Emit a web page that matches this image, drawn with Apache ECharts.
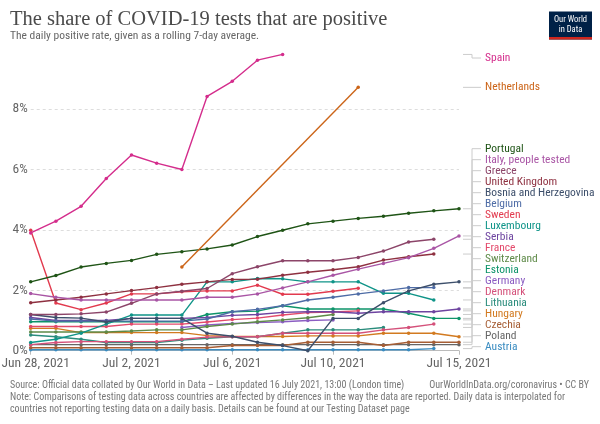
<!DOCTYPE html>
<html><head><meta charset="utf-8">
<script src="https://cdn.jsdelivr.net/npm/echarts@6/dist/echarts.min.js"></script>
<style>html,body{margin:0;padding:0;background:#fff}#c{width:600px;height:424px}</style>
</head><body><div id="c"></div><script>
const _ = null;
const days = ["Jun 28, 2021","Jun 29, 2021","Jun 30, 2021","Jul 1, 2021","Jul 2, 2021","Jul 3, 2021","Jul 4, 2021","Jul 5, 2021","Jul 6, 2021","Jul 7, 2021","Jul 8, 2021","Jul 9, 2021","Jul 10, 2021","Jul 11, 2021","Jul 12, 2021","Jul 13, 2021","Jul 14, 2021","Jul 15, 2021"];
const tickDays = ["Jun 28, 2021","Jul 2, 2021","Jul 6, 2021","Jul 10, 2021","Jul 15, 2021"];

const spain       = [3.90,4.29,4.78,5.70,6.48,6.21,6.00,8.42,8.92,9.62,9.81,_,_,_,_,_,_,_];
const netherlands = [_,_,_,_,_,_,2.77,_,_,_,_,_,_,8.72,_,_,_,_];
const portugal    = [2.28,2.49,2.77,2.89,2.99,3.19,3.28,3.37,3.50,3.78,3.99,4.20,4.29,4.38,4.45,4.55,4.63,4.70];
const italy       = [1.89,1.77,1.68,1.68,1.68,1.68,1.68,1.77,1.77,1.88,2.08,2.28,2.50,2.70,2.89,3.08,3.39,3.80];
const greece      = [1.20,1.20,1.22,1.28,1.57,1.88,1.97,2.06,2.55,2.78,2.98,2.98,2.98,3.09,3.30,3.60,3.69,_];
const uk          = [1.59,1.68,1.77,1.88,1.99,2.09,2.20,2.28,2.36,2.37,2.50,2.60,2.68,2.78,3.00,3.11,3.20,_];
const bosnia      = [1.20,1.10,1.08,0.95,1.07,1.07,1.07,0.58,0.48,0.28,0.17,0.00,1.07,1.07,1.59,1.98,2.20,2.28];
const belgium     = [1.05,0.98,0.98,0.98,0.98,0.98,0.98,1.05,1.29,1.37,1.49,1.68,1.77,1.88,1.98,2.09,2.09,_];
const sweden      = [3.99,1.58,1.36,1.58,1.88,1.88,1.95,1.98,1.98,2.17,1.87,1.87,1.97,2.07,_,_,_,_];
const luxembourg  = [0.27,0.38,0.58,0.88,1.18,1.18,1.18,2.28,2.28,2.39,2.38,2.28,2.28,2.28,1.90,1.90,1.68,_];
const serbia      = [1.10,1.00,1.00,1.00,1.07,1.07,1.07,1.10,1.17,1.20,1.27,1.29,1.29,1.24,1.29,1.29,1.29,1.38];
const france      = [0.80,0.80,0.80,0.80,0.88,0.88,0.88,0.95,1.03,1.08,1.18,1.26,1.28,1.32,_,_,_,_];
const switzerland = [0.62,0.62,0.62,0.62,0.65,0.69,0.69,0.80,0.88,0.96,1.02,1.09,1.20,_,_,_,_,_];
const estonia     = [0.96,0.96,0.96,0.96,0.96,0.96,0.96,1.20,1.29,1.31,1.49,1.38,1.38,1.38,1.38,1.24,1.07,1.07];
const germany     = [_,_,_,_,_,_,0.77,0.85,0.90,0.93,0.96,1.00,1.02,_,_,_,_,_];
const denmark     = [0.20,0.27,0.30,0.30,0.30,0.30,0.38,0.45,0.46,0.46,0.58,0.58,0.58,0.58,0.69,0.77,0.88,_];
const lithuania   = [0.52,0.46,0.38,0.27,0.27,0.27,0.35,0.41,0.46,0.46,0.58,0.69,0.69,0.69,0.77,_,_,_];
const hungary     = [0.74,0.74,0.60,0.60,0.60,0.60,0.60,0.50,0.47,0.47,0.47,0.49,0.49,0.49,0.58,0.58,0.58,0.46];
const czechia     = [0.10,0.10,0.10,0.10,0.10,0.10,0.10,0.10,0.17,0.17,0.17,0.28,0.28,0.28,0.17,0.28,0.28,0.28];
const poland      = [0.20,0.20,0.20,0.20,0.20,0.20,0.20,0.20,0.20,0.20,0.20,0.20,0.20,0.20,0.20,0.20,0.20,0.20];
const austria     = [0.03,0.03,0.03,0.03,0.03,0.03,0.03,0.03,0.03,0.03,0.03,0.03,0.03,0.03,0.03,0.03,0.07,_];

const countries = ["Spain","Netherlands","Portugal","Italy, people tested","Greece","United Kingdom","Bosnia and Herzegovina","Belgium","Sweden","Luxembourg","Serbia","France","Switzerland","Estonia","Germany","Denmark","Lithuania","Hungary","Czechia","Poland","Austria"];
const values = [spain,netherlands,portugal,italy,greece,uk,bosnia,belgium,sweden,luxembourg,serbia,france,switzerland,estonia,germany,denmark,lithuania,hungary,czechia,poland,austria];
const colors = ["#D42D8C","#CC6519","#1F5416","#A955A5","#8C4569","#8E3040","#3D4F6B","#4E6CA6","#E23A4E","#0F9488","#6E44A0","#E34A6B","#5E8A48","#0E946A","#8B5DC2","#D4517A","#2A8C7C","#D27A20","#A65E35","#666666","#3A8CC1"];

const NARROW = '"Liberation Sans Narrow","Roboto Condensed",Roboto,sans-serif';

const chart = echarts.init(document.getElementById('c'));
const series = countries.map((n,k)=>({
  type:'line', name:n, data:values[k], connectNulls:true,
  symbol:'circle', symbolSize:3.5, showSymbol:true,
  lineStyle:{width:1.4,color:colors[k]}, itemStyle:{color:colors[k]},
  emphasis:{disabled:true}, z: 2 + (countries.length-k)/100
}));
const option = {
  animation:false,
  grid:{left:30.7,right:141,top:48.7,bottom:73.3,containLabel:false,outerBoundsMode:'none'},
  xAxis:{type:'category',data:days,boundaryGap:false,
    axisLine:{lineStyle:{color:'#bbb'}},
    axisTick:{show:true,length:4,interval:(i,v)=>tickDays.includes(v),lineStyle:{color:'#bbb'}},
    axisLabel:{interval:(i,v)=>tickDays.includes(v),color:'#666',fontSize:13.5,fontFamily:NARROW,margin:6,showMinLabel:true,showMaxLabel:true,
      formatter:(v,i)=> i===0 ? '{first|'+v+'}' : v,
      rich:{first:{color:'#666',fontSize:13.5,fontFamily:NARROW,padding:[0,0,0,10]}}}},
  yAxis:{type:'value',min:0,max:10,interval:2,
    axisLine:{show:false},axisTick:{show:false},
    axisLabel:{formatter:'{value}%',color:'#666',fontSize:13.5,fontFamily:NARROW,margin:3,showMaxLabel:false},
    splitLine:{show:true,showMaxLine:false,lineStyle:{color:'#ddd',type:[3,3]}}},
  series
};
chart.setOption(option);

// right-hand labels
const xr = chart.convertToPixel({xAxisIndex:0}, days.length-1);
const ends = values.map((arr,k)=>{
  let i=arr.length-1; while(arr[i]==null) i--;
  const y = chart.convertToPixel({yAxisIndex:0}, arr[i]);
  return {k, v:arr[i], y};
});
ends.sort((a,b)=> b.v-a.v || a.k-b.k);
const h=11, topLim=58, botLim=346.7;
ends.forEach((e,i)=>{ e.ly = Math.max(e.y, i ? ends[i-1].ly + h : topLim); });
for (let i=ends.length-1;i>=0;i--){ ends[i].ly = Math.min(ends[i].ly, i===ends.length-1 ? botLim : ends[i+1].ly - h); }
const g = [];
ends.forEach(e=>{
  const ex = xr + 13;
  g.push({type:'polyline',shape:{points:[[xr+4,e.y],[ex,e.y],[ex,e.ly],[xr+22,e.ly]]},style:{stroke:'#ccc',lineWidth:1,fill:null},silent:true});
  g.push({type:'text',x:xr+26,y:e.ly,style:{text:countries[e.k],fill:colors[e.k],font:'11.5px '+NARROW,textVerticalAlign:'middle'},silent:true});
});
// title, subtitle, logo, footer
g.push({type:'text',x:10,y:9,style:{text:'The share of COVID-19 tests that are positive',fill:'#4a4a4a',font:'20.5px "Liberation Serif","DejaVu Serif",serif',textVerticalAlign:'top'}});
g.push({type:'text',x:10,y:30,style:{text:'The daily positive rate, given as a rolling 7-day average.',fill:'#666',font:'11.5px '+NARROW,textVerticalAlign:'top'}});
g.push({type:'rect',shape:{x:549,y:11.5,width:43,height:28},style:{fill:'#002147'}});
g.push({type:'rect',shape:{x:549,y:37,width:43,height:2.5},style:{fill:'#CE261E'}});
g.push({type:'text',x:570.5,y:20,style:{text:'Our World',fill:'#fff',font:'8.5px '+NARROW,textAlign:'center',textVerticalAlign:'middle'}});
g.push({type:'text',x:570.5,y:30,style:{text:'in Data',fill:'#fff',font:'8.5px '+NARROW,textAlign:'center',textVerticalAlign:'middle'}});
const fs = '10px '+NARROW;
g.push({type:'text',x:10,y:385,style:{text:'Source: Official data collated by Our World in Data – Last updated 16 July 2021, 13:00 (London time)',fill:'#777',font:fs,textVerticalAlign:'middle'}});
g.push({type:'text',x:589,y:385,style:{text:'OurWorldInData.org/coronavirus • CC BY',fill:'#777',font:fs,textAlign:'right',textVerticalAlign:'middle'}});
g.push({type:'text',x:10,y:397,style:{text:'Note: Comparisons of testing data across countries are affected by differences in the way the data are reported. Daily data is interpolated for',fill:'#777',font:fs,textVerticalAlign:'middle'}});
g.push({type:'text',x:10,y:409,style:{text:'countries not reporting testing data on a daily basis. Details can be found at our Testing Dataset page',fill:'#777',font:fs,textVerticalAlign:'middle'}});
chart.setOption({graphic:g});
</script></body></html>
